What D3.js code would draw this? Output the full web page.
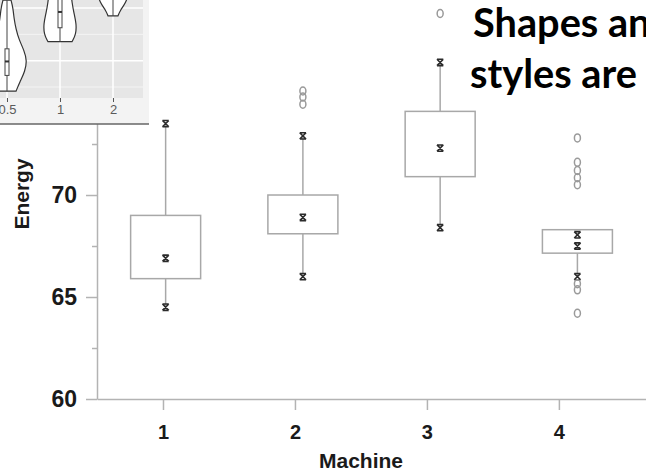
<!DOCTYPE html>
<html>
<head>
<meta charset="utf-8">
<script src="https://cdn.jsdelivr.net/npm/d3@7"></script>
<style>
  body { margin: 0; background: #fff; }
  svg { display: block; }
</style>
</head>
<body>
<div id="chart"></div>
<script>
// Boxplot data (Energy by Machine)
const machines = [1, 2, 3, 4];
const q1 = [65.9, 68.1, 70.9, 67.15];
const q3 = [69.0, 70.0, 74.1, 68.3];
const lowWhisker = [64.5, 66.0, 68.4, 66.0];
const highWhisker = [73.5, 72.9, 76.5, 68.05];
const means = [66.9, 68.9, 72.3, 67.5];
const outliers = [[], [75.1, 74.8, 74.45], [78.9], [72.8, 71.6, 71.2, 70.85, 70.5, 65.65, 65.35, 64.2]];
const yTicks = [60, 65, 70];  // 75 is hidden under the inset in the reference
const yMinorTicks = [62.5, 67.5, 72.5];

// Inset violin data (len by dose)
const doses = ["0.5", "1", "2"];
const violinLen = [
  [4.2, 6, 8, 10, 12, 14, 16, 18, 20, 21.5],
  [13.6, 15, 17, 19, 21, 23, 25, 27.3],
  [18.5, 19.5, 21, 23, 25, 27, 29, 31, 33.9]
];
const violinDensity = [
  [0.45, 0.65, 0.9, 1.0, 0.85, 0.6, 0.45, 0.35, 0.3, 0.2],
  [0.6, 0.8, 0.82, 0.7, 0.6, 0.55, 0.5, 0.3],
  [0.25, 0.35, 0.65, 0.8, 0.75, 0.65, 0.5, 0.35, 0.15]
];
const doseMin = [4.2, 13.6, 18.5];
const doseQ1 = [7.2, 16.25, 22.7];
const doseMedian = [9.85, 19.25, 25.95];
const doseQ3 = [12.25, 25.9, 29.5];
const doseMax = [21.5, 27.3, 33.9];
const insetGridMajor = [10, 20];
const insetGridMinor = [5, 15];

const titleLines = ["Shapes and", "styles are"];

const width = 646, height = 472;
const svg = d3.select("#chart").append("svg")
  .attr("width", width)
  .attr("height", height);

// Scales
const y = d3.scaleLinear().domain([60, 79.56]).range([399, 0]);
const xAxisScale = d3.scaleLinear().domain([0.5, 4.66]).range([97, 646]);
// the boxes in the reference sit a little right of the axis ticks
const xMark = d3.scaleLinear().domain([0.5, 4.66]).range([97, 668]);

const axisColor = "#b3b3b3";
const boxColor = "#a8a8a8";

// Axes
const yAxis = svg.append("g")
  .attr("transform", `translate(${xAxisScale(0.5)},0)`)
  .call(d3.axisLeft(y).tickValues(yTicks).tickSize(11).tickSizeOuter(0).tickPadding(9).tickFormat(d3.format("d")));
svg.append("g")
  .attr("transform", `translate(${xAxisScale(0.5)},0)`)
  .call(d3.axisLeft(y).tickValues(yMinorTicks).tickSize(5).tickSizeOuter(0).tickFormat(""))
  .call(g => g.select(".domain").remove());

const xAxis = svg.append("g")
  .attr("transform", `translate(0,${y(60)})`)
  .call(d3.axisBottom(xAxisScale).tickValues(machines).tickSize(11).tickSizeOuter(0).tickPadding(15).tickFormat(d3.format("d")));

svg.selectAll(".domain, .tick line").attr("stroke", axisColor).attr("stroke-width", 1.5);
yAxis.selectAll("text")
  .attr("fill", "#1a1a1a")
  .style("font-family", "'Liberation Sans', Arial, sans-serif")
  .style("font-weight", "bold")
  .style("font-size", "23px");
xAxis.selectAll("text")
  .attr("fill", "#1a1a1a")
  .style("font-family", "'Liberation Sans', Arial, sans-serif")
  .style("font-weight", "bold")
  .style("font-size", "20px");

// Axis titles
svg.append("text")
  .attr("x", 361)
  .attr("y", 468)
  .attr("text-anchor", "middle")
  .attr("fill", "#1a1a1a")
  .style("font-family", "'Liberation Sans', Arial, sans-serif")
  .style("font-weight", "bold")
  .style("font-size", "21px")
  .text("Machine");

svg.append("text")
  .attr("transform", "translate(29,194) rotate(-90)")
  .attr("text-anchor", "middle")
  .attr("fill", "#1a1a1a")
  .style("font-family", "'Liberation Sans', Arial, sans-serif")
  .style("font-weight", "bold")
  .style("font-size", "21px")
  .text("Energy");

// Boxes
const boxData = machines.map((m, i) => ({
  m, q1: q1[i], q3: q3[i], lo: lowWhisker[i], hi: highWhisker[i], mean: means[i], out: outliers[i]
}));
const halfBox = 0.255;

const boxes = svg.append("g").selectAll("g")
  .data(boxData)
  .join("g");

boxes.append("line")
  .attr("x1", d => xMark(d.m)).attr("x2", d => xMark(d.m))
  .attr("y1", d => y(Math.max(d.q3, d.hi))).attr("y2", d => y(d.q3))
  .attr("stroke", boxColor).attr("stroke-width", 1.5);
boxes.append("line")
  .attr("x1", d => xMark(d.m)).attr("x2", d => xMark(d.m))
  .attr("y1", d => y(d.q1)).attr("y2", d => y(d.lo))
  .attr("stroke", boxColor).attr("stroke-width", 1.5);
boxes.append("rect")
  .attr("x", d => xMark(d.m - halfBox))
  .attr("width", d => xMark(d.m + halfBox) - xMark(d.m - halfBox))
  .attr("y", d => y(d.q3))
  .attr("height", d => y(d.q1) - y(d.q3))
  .attr("fill", "none")
  .attr("stroke", boxColor).attr("stroke-width", 1.5);

// "x" marker with small serifs, as in the reference
const serifX = {
  draw(ctx, size) {
    const r = Math.sqrt(size) / 2;
    ctx.moveTo(-r, -r); ctx.lineTo(r, r);
    ctx.moveTo(r, -r); ctx.lineTo(-r, r);
    ctx.moveTo(-r, -r); ctx.lineTo(r, -r);
    ctx.moveTo(-r, r); ctx.lineTo(r, r);
  }
};
const xSymbol = d3.symbol(serifX, 40);

boxes.selectAll("path.mk")
  .data(d => [d.lo, d.hi, d.mean].map(v => ({ m: d.m, v })))
  .join("path")
  .attr("class", "mk")
  .attr("transform", d => `translate(${xMark(d.m)},${y(d.v)})`)
  .attr("d", xSymbol)
  .attr("fill", "none")
  .attr("stroke", "#2b2b2b")
  .attr("stroke-width", 1.6);

boxes.selectAll("ellipse")
  .data(d => d.out.map(v => ({ m: d.m, v })))
  .join("ellipse")
  .attr("cx", d => xMark(d.m))
  .attr("cy", d => y(d.v))
  .attr("rx", 3)
  .attr("ry", 4)
  .attr("fill", "none")
  .attr("stroke", "#9a9a9a")
  .attr("stroke-width", 1.5);

// Inset violin plot (cropped ggplot)
const inset = svg.append("g");
const insetW = 149, insetH = 124, panelW = 143, panelH = 98;
svg.append("clipPath").attr("id", "insetClip")
  .append("rect").attr("width", insetW).attr("height", insetH);
inset.attr("clip-path", "url(#insetClip)");

inset.append("rect").attr("width", insetW).attr("height", insetH).attr("fill", "#f3f3f3");
inset.append("rect").attr("width", panelW).attr("height", panelH).attr("fill", "#e6e6e6");

const xIn = d3.scalePoint().domain(doses).range([7, 113]);
const yIn = d3.scaleLinear().domain([5, 20]).range([87, 8]);
const wIn = d3.scaleLinear().domain([0, 1]).range([0, 20]);

const panel = inset.append("g");
panel.selectAll("line.gmin")
  .data(insetGridMinor)
  .join("line")
  .attr("x1", 0).attr("x2", panelW)
  .attr("y1", d => yIn(d)).attr("y2", d => yIn(d))
  .attr("stroke", "#f7f7f7").attr("stroke-width", 0.8);
panel.selectAll("line.gmaj")
  .data(insetGridMajor)
  .join("line")
  .attr("x1", 0).attr("x2", panelW)
  .attr("y1", d => yIn(d)).attr("y2", d => yIn(d))
  .attr("stroke", "#ffffff").attr("stroke-width", 1.5);
panel.selectAll("line.gx")
  .data(doses)
  .join("line")
  .attr("x1", d => xIn(d)).attr("x2", d => xIn(d))
  .attr("y1", 0).attr("y2", panelH)
  .attr("stroke", "#ffffff").attr("stroke-width", 1.5);

const violinArea = d3.area()
  .curve(d3.curveBasis)
  .y(d => yIn(d.len))
  .x0(d => d.cx - wIn(d.dens))
  .x1(d => d.cx + wIn(d.dens));

doses.forEach((dose, i) => {
  const cx = xIn(dose);
  const pts = violinLen[i].map((len, j) => ({ len, dens: violinDensity[i][j], cx }));
  const g = panel.append("g");
  g.append("path")
    .attr("d", violinArea(pts))
    .attr("fill", "#ffffff")
    .attr("stroke", "#333")
    .attr("stroke-width", 1.2);
  g.append("line")
    .attr("x1", cx).attr("x2", cx)
    .attr("y1", yIn(doseMin[i])).attr("y2", yIn(doseMax[i]))
    .attr("stroke", "#444").attr("stroke-width", 1);
  g.append("rect")
    .attr("x", cx - 2).attr("width", 4)
    .attr("y", yIn(doseQ3[i]))
    .attr("height", yIn(doseQ1[i]) - yIn(doseQ3[i]))
    .attr("fill", "#ffffff")
    .attr("stroke", "#444").attr("stroke-width", 1);
  g.append("line")
    .attr("x1", cx - 2).attr("x2", cx + 2)
    .attr("y1", yIn(doseMedian[i])).attr("y2", yIn(doseMedian[i]))
    .attr("stroke", "#333").attr("stroke-width", 2);
});

inset.append("g")
  .attr("transform", `translate(0,${panelH})`)
  .call(d3.axisBottom(xIn).tickSize(4).tickPadding(3))
  .call(g => g.select(".domain").remove())
  .call(g => g.selectAll("line").attr("stroke", "#555").attr("stroke-width", 1))
  .call(g => g.selectAll("text")
    .attr("fill", "#5a5a5a")
    .style("font-family", "'Liberation Sans', Arial, sans-serif")
    .style("font-size", "13px"));

svg.append("line")
  .attr("x1", 0).attr("x2", insetW)
  .attr("y1", insetH).attr("y2", insetH)
  .attr("stroke", "#666").attr("stroke-width", 1.5);

// Slide title (clipped by the page edge)
const title = svg.append("g")
  .style("font-family", "Lato, 'Open Sans', sans-serif")
  .style("font-weight", "bold")
  .attr("fill", "#000");
title.append("text").attr("x", 473).attr("y", 37).style("font-size", "33px").text(titleLines[0]);
const t2 = title.append("text").attr("x", 470).attr("y", 88).style("font-size", "33px").text(titleLines[1]);
// fit the second line to the width seen in the reference
const fs = 33 * 167 / t2.node().getComputedTextLength();
title.selectAll("text").style("font-size", fs + "px");
</script>
</body>
</html>
